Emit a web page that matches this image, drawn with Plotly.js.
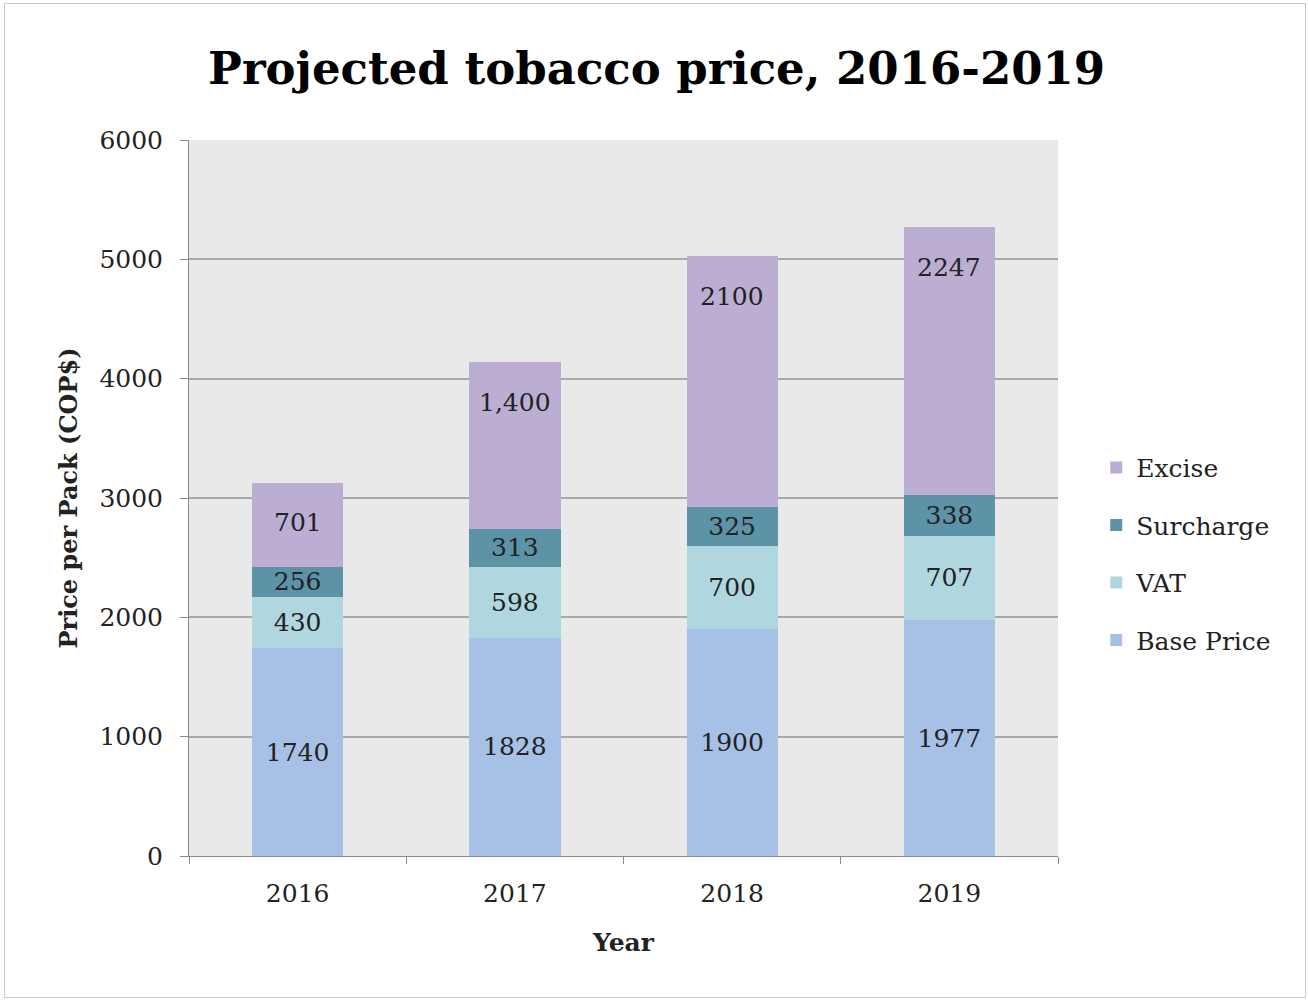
<!DOCTYPE html>
<html>
<head>
<meta charset="utf-8">
<script src="https://cdn.plot.ly/plotly-3.0.1.min.js"></script>
<style>
  html, body { margin: 0; padding: 0; background: #fff; }
  #wrap { position: relative; width: 1308px; height: 1000px; }
  #chart { position: absolute; left: 0; top: 0; width: 1308px; height: 1000px; }
  #frame { position: absolute; left: 4px; top: 3px; width: 1300px; height: 993px; border: 1px solid #c8c8c8; pointer-events: none; }
</style>
</head>
<body>
<div id="wrap"><div id="chart"></div><div id="frame"></div></div>
<script>
const years = ["2016", "2017", "2018", "2019"];
const basePrice = [1740, 1828, 1900, 1977];
const vat = [430, 598, 700, 707];
const surcharge = [256, 313, 325, 338];
const excise = [701, 1400, 2100, 2247];
const exciseLabels = ["701", "1,400", "2100", "2247"];
const yTicks = [0, 1000, 2000, 3000, 4000, 5000, 6000];

const FONT = "DejaVu Serif, Liberation Serif, serif";
const labelFont = { family: FONT, size: 25, color: "#222" };

function barTrace(name, values, color, rank, withText) {
  return {
    type: "bar",
    name: name,
    x: years,
    y: values,
    marker: { color: color, line: { width: 0 } },
    text: withText ? values.map(String) : undefined,
    textposition: withText ? "inside" : "none",
    insidetextanchor: "middle",
    textangle: 0,
    constraintext: "none",
    textfont: labelFont,
    legendgroup: name,
    legendrank: rank,
    hoverinfo: "x+y+name"
  };
}

const traces = [
  barTrace("Base Price", basePrice, "#a7c0e6", 4, true),
  barTrace("VAT", vat, "#b0d7e0", 3, true),
  barTrace("Surcharge", surcharge, "#5d93a6", 2, true),
  barTrace("Excise", excise, "#bbaed2", 1, false)
];

const totals = years.map((_, i) => basePrice[i] + vat[i] + surcharge[i] + excise[i]);
const annotations = years.map((yr, i) => ({
  x: i, y: totals[i], xref: "x", yref: "y",
  text: exciseLabels[i], showarrow: false,
  yanchor: "middle", yshift: -40,
  font: labelFont
}));

const layout = {
  width: 1308, height: 1000,
  margin: { l: 189, r: 250, t: 140, b: 144 },
  paper_bgcolor: "#ffffff",
  plot_bgcolor: "#e9e9e9",
  barmode: "stack",
  bargap: 0.58,
  title: {
    text: "<b>Projected tobacco price, 2016-2019</b>",
    font: { family: FONT, size: 45, color: "#000" },
    x: 0.502, xref: "container", xanchor: "center",
    y: 0.932, yref: "container", yanchor: "middle"
  },
  xaxis: {
    type: "category",
    range: [-0.5, 3.5],
    ticks: "outside", tickson: "boundaries", ticklen: 7, tickcolor: "#888", tickwidth: 1,
    ticklabelstandoff: 15,
    showline: true, linecolor: "#888", linewidth: 1,
    showgrid: false,
    tickfont: { family: FONT, size: 25, color: "#222" },
    title: { text: "<b>Year</b>", font: { family: FONT, size: 25, color: "#222" }, standoff: 26 }
  },
  yaxis: {
    range: [0, 6000],
    tickvals: yTicks,
    ticks: "outside", ticklen: 8, tickcolor: "#888", tickwidth: 1,
    ticklabelstandoff: 12,
    showline: true, linecolor: "#888", linewidth: 1,
    showgrid: true, gridcolor: "#a8a8a8", gridwidth: 2,
    zeroline: false,
    tickfont: { family: FONT, size: 25, color: "#222" },
    title: { text: "<b>Price per Pack (COP$)</b>", font: { family: FONT, size: 24, color: "#222" }, standoff: 14 }
  },
  legend: {
    x: 1.044, xanchor: "left",
    y: 0.422, yanchor: "middle",
    traceorder: "grouped",
    tracegroupgap: 22,
    font: { family: FONT, size: 25, color: "#222" },
    bgcolor: "rgba(0,0,0,0)",
    itemwidth: 30
  },
  annotations: annotations,
  showlegend: true
};

Plotly.newPlot("chart", traces, layout, { displayModeBar: false, staticPlot: true });
</script>
</body>
</html>
